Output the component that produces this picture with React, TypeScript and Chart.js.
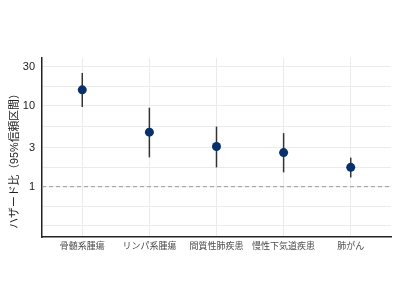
import React, { useEffect, useRef } from "react";
import { Chart, registerables } from "chart.js";

Chart.register(...registerables);

const categories = ["骨髄系腫瘍", "リンパ系腫瘍", "間質性肺疾患", "慢性下気道疾患", "肺がん"];
const hazardRatio = [15.6, 4.7, 3.13, 2.63, 1.73];
const ciLower = [9.6, 2.3, 1.73, 1.5, 1.3];
const ciUpper = [25.2, 9.4, 5.5, 4.57, 2.28];
const yTickLabels = [1, 3, 10, 30];
const yGridValues = [0.333, 0.577, 1, 1.732, 3, 5.477, 10, 17.32, 30];
const referenceValue = 1;
const yTitle = "ハザード比（95%信頼区間）";

const FONT = "'Liberation Sans', 'Noto Sans CJK JP', sans-serif";

const errorBarPlugin = {
  id: "errorBars",
  beforeDatasetsDraw(chart: any) {
    const { ctx, scales } = chart;
    const xs = scales.x;
    const ys = scales.y;
    ctx.save();
    ctx.strokeStyle = "#333333";
    ctx.lineWidth = 1.5;
    categories.forEach((_, i) => {
      const x = xs.getPixelForValue(i + 1);
      ctx.beginPath();
      ctx.moveTo(x, ys.getPixelForValue(ciLower[i]));
      ctx.lineTo(x, ys.getPixelForValue(ciUpper[i]));
      ctx.stroke();
    });
    ctx.restore();
  },
};

const yTitlePlugin = {
  id: "yTitle",
  afterDraw(chart: any) {
    const { ctx, chartArea } = chart;
    ctx.save();
    ctx.translate(15.5, (chartArea.top + chartArea.bottom) / 2 + 11);
    ctx.rotate(-Math.PI / 2);
    ctx.font = `10.8px ${FONT}`;
    ctx.fillStyle = "#222222";
    ctx.textAlign = "center";
    ctx.textBaseline = "middle";
    ctx.fillText(yTitle, 0, 0);
    ctx.restore();
  },
};

export default function App() {
  const ref = useRef<HTMLCanvasElement | null>(null);
  useEffect(() => {
    if (!ref.current) return;
    const chart = new Chart(ref.current, {
      type: "scatter",
      data: {
        datasets: [
          {
            type: "line",
            data: [
              { x: 0.4, y: referenceValue },
              { x: 5.6, y: referenceValue },
            ],
            borderColor: "#999999",
            borderWidth: 1,
            borderDash: [4, 3],
            pointRadius: 0,
            fill: false,
          } as any,
          {
            data: hazardRatio.map((v, i) => ({ x: i + 1, y: v })),
            backgroundColor: "#08306b",
            borderColor: "#08306b",
            pointRadius: 4.5,
            pointBorderWidth: 0,
          },
        ],
      },
      options: {
        animation: false,
        responsive: false,
        layout: { padding: { top: 58, right: 9, left: 0, bottom: 0 } },
        plugins: { legend: { display: false }, tooltip: { enabled: false } },
        scales: {
          x: {
            type: "linear",
            min: 0.4,
            max: 5.6,
            afterBuildTicks: (s: any) => {
              s.ticks = categories.map((_, i) => ({ value: i + 1 }));
            },
            afterFit: (s: any) => {
              s.height = 63;
            },
            ticks: {
              autoSkip: false,
              maxRotation: 0,
              padding: 4,
              color: "#4d4d4d",
              font: { family: FONT, size: 9 },
              callback: (v: any) => categories[Math.round(Number(v)) - 1] ?? "",
            },
            grid: { color: "#ebebeb", lineWidth: 1, drawTicks: false },
            border: { display: true, color: "#222222", width: 1.5 },
          },
          y: {
            type: "logarithmic",
            min: 0.24,
            max: 38.5,
            afterBuildTicks: (s: any) => {
              s.ticks = yGridValues.map((v) => ({ value: v }));
            },
            afterFit: (s: any) => {
              s.width = 42;
            },
            ticks: {
              autoSkip: false,
              padding: 7,
              color: "#222222",
              font: { family: FONT, size: 11 },
              callback: (v: any) => (yTickLabels.includes(Number(v)) ? String(v) : ""),
            },
            grid: { color: "#ebebeb", lineWidth: 1, drawTicks: false },
            border: { display: true, color: "#222222", width: 1.5 },
          },
        },
      },
      plugins: [errorBarPlugin, yTitlePlugin],
    });
    return () => chart.destroy();
  }, []);
  return (
    <div style={{ position: "fixed", left: 0, top: 0, width: 400, height: 300, background: "#fff" }}>
      <canvas ref={ref} width={400} height={300} style={{ width: 400, height: 300 }} />
    </div>
  );
}
